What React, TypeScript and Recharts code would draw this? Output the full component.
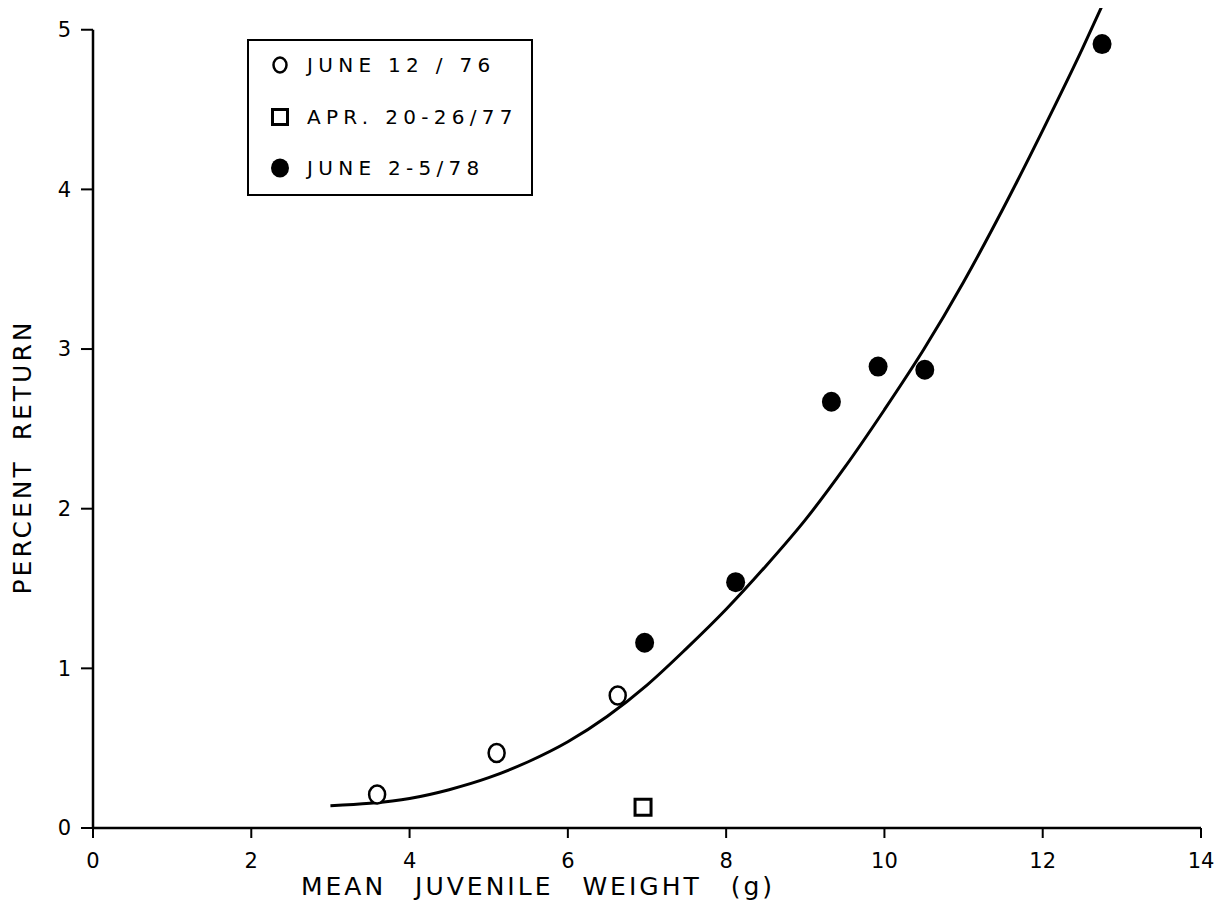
import { ComposedChart, Line, Scatter, XAxis, YAxis, ReferenceLine } from 'recharts'

// fitted curve
const curveX = [3.0, 3.5, 4.0, 4.5, 5.0, 5.5, 6.0, 6.5, 7.0, 7.5, 8.0, 8.5, 9.0, 9.5, 10.0, 10.5, 11.0, 11.5, 12.0, 12.5, 12.75]
const curveY = [0.14, 0.155, 0.185, 0.24, 0.315, 0.415, 0.54, 0.7, 0.895, 1.125, 1.37, 1.64, 1.93, 2.26, 2.62, 3.0, 3.42, 3.88, 4.37, 4.88, 5.15]

// June 12/76
const openX = [3.59, 5.1, 6.63]
const openY = [0.21, 0.47, 0.83]
// Apr. 20-26/77
const squareX = [6.95]
const squareY = [0.13]
// June 2-5/78
const filledX = [6.97, 8.12, 9.33, 9.92, 10.51, 12.75]
const filledY = [1.16, 1.54, 2.67, 2.89, 2.87, 4.91]

const xTicks = [0, 2, 4, 6, 8, 10, 12, 14]
const yTicks = [0, 1, 2, 3, 4, 5]

const legendItems = [
  { label: 'JUNE 12 / 76', kind: 'open' },
  { label: 'APR. 20-26/77', kind: 'square' },
  { label: 'JUNE 2-5/78', kind: 'filled' },
]

const zip = (xs: number[], ys: number[]) => xs.map((x, i) => ({ x, y: ys[i] }))
const curve = zip(curveX, curveY)
const openPts = zip(openX, openY)
const squarePts = zip(squareX, squareY)
const filledPts = zip(filledX, filledY)

const FONT = '"DejaVu Sans", sans-serif'

const OpenCircle = ({ cx, cy }: any) => (
  <ellipse cx={cx} cy={cy} rx={8} ry={9} fill="#fff" stroke="#000" strokeWidth={2.5} />
)
const FilledCircle = ({ cx, cy }: any) => (
  <ellipse cx={cx} cy={cy} rx={9.5} ry={10} fill="#000" />
)
const Square = ({ cx, cy }: any) => (
  <rect x={cx - 8} y={cy - 8} width={16} height={16} fill="#fff" stroke="#000" strokeWidth={3} />
)

const LegendMarker = ({ kind }: { kind: string }) => (
  <svg width={22} height={22} style={{ display: 'block' }}>
    {kind === 'open' && <ellipse cx={11} cy={11} rx={6.5} ry={7.5} fill="#fff" stroke="#000" strokeWidth={2.5} />}
    {kind === 'square' && <rect x={3.5} y={3.5} width={15} height={15} fill="#fff" stroke="#000" strokeWidth={3} />}
    {kind === 'filled' && <ellipse cx={11} cy={11} rx={9} ry={9.5} fill="#000" />}
  </svg>
)

const tickStyle = { fontSize: 21, fill: '#000', fontFamily: FONT }

const App = () => (
  // shifted up over the body margin so the curve's top end fits above the 5 tick
  <div style={{ position: 'relative', top: -8, width: 1209, height: 905, background: '#fff' }}>
    <ComposedChart width={1209} height={905} margin={{ top: 1, right: 16, left: 25, bottom: 27 }}>
      <XAxis
        type="number"
        dataKey="x"
        domain={[0, 14]}
        ticks={xTicks}
        interval={0}
        height={50}
        tick={tickStyle}
        tickSize={10}
        tickMargin={15}
        axisLine={{ stroke: '#000', strokeWidth: 2.5 }}
        tickLine={{ stroke: '#000', strokeWidth: 2 }}
        label={{
          content: () => (
            <text x={530} y={895} textAnchor="middle" fontSize={25} fontFamily={FONT}
              letterSpacing={3} wordSpacing={18} fill="#000">
              MEAN JUVENILE WEIGHT (g)
            </text>
          ),
        }}
      />
      <YAxis
        type="number"
        dataKey="y"
        domain={[0, 5.18]}
        ticks={yTicks}
        interval={0}
        width={60}
        tick={tickStyle}
        tickSize={12}
        tickMargin={10}
        axisLine={false}
        tickLine={{ stroke: '#000', strokeWidth: 2 }}
        label={{
          content: () => (
            <text x={14} y={457} transform="rotate(-90 14 457)" textAnchor="middle"
              dominantBaseline="central" fontSize={25} fontFamily={FONT}
              letterSpacing={3} wordSpacing={8} fill="#000">
              PERCENT RETURN
            </text>
          ),
        }}
      />
      <ReferenceLine
        segment={[{ x: 0, y: 0 }, { x: 0, y: 5 }]}
        stroke="#000"
        strokeWidth={2.5}
        ifOverflow="visible"
      />
      <Line data={curve} dataKey="y" type="monotone" stroke="#000" strokeWidth={3}
        dot={false} activeDot={false} isAnimationActive={false} />
      <Scatter data={openPts} dataKey="y" shape={OpenCircle} isAnimationActive={false} />
      <Scatter data={squarePts} dataKey="y" shape={Square} isAnimationActive={false} />
      <Scatter data={filledPts} dataKey="y" shape={FilledCircle} isAnimationActive={false} />
    </ComposedChart>

    <div
      style={{
        position: 'absolute', left: 239, top: 39, width: 282, height: 153,
        border: '2px solid #000', background: '#fff', boxSizing: 'content-box',
      }}
    >
      {legendItems.map((it, i) => (
        <div
          key={it.label}
          style={{
            position: 'absolute', left: 20, top: 13 + i * 51.5, height: 22,
            display: 'flex', alignItems: 'center', gap: 16,
          }}
        >
          <LegendMarker kind={it.kind} />
          <span style={{ fontFamily: FONT, fontSize: 20, letterSpacing: 5.3, whiteSpace: 'nowrap', lineHeight: '22px' }}>
            {it.label}
          </span>
        </div>
      ))}
    </div>
  </div>
)

export default App
